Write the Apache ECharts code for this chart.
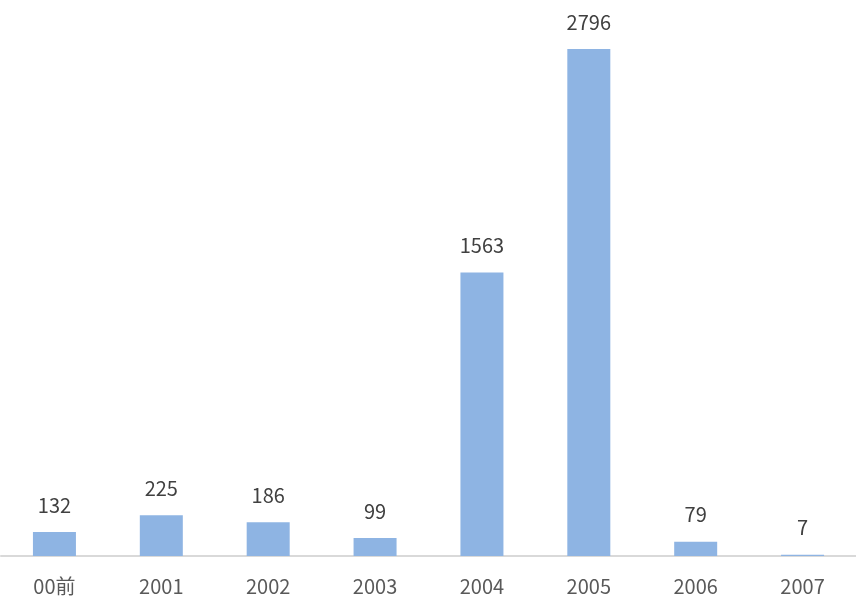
<!DOCTYPE html>
<html><head><meta charset="utf-8">
<script src="https://cdn.jsdelivr.net/npm/echarts@6/dist/echarts.min.js"></script>
<style>html,body{margin:0;padding:0;background:#fff}#c{width:856px;height:614px}</style>
</head><body><div id="c"></div>
<script>
const categories = ['00前','2001','2002','2003','2004','2005','2006','2007'];
const values = [132,225,186,99,1563,2796,79,7];
const chart = echarts.init(document.getElementById('c'));
chart.setOption({
  animation:false,
  grid:{left:1,right:-1,top:12,bottom:58,containLabel:false},
  xAxis:{type:'category',data:categories,
    axisLine:{lineStyle:{color:'#d9d9d9',width:2}},
    axisTick:{show:false},
    axisLabel:{color:'#595959',fontSize:20,margin:20,fontFamily:'"Noto Sans CJK SC", sans-serif'}},
  yAxis:{type:'value',min:0,max:3000,show:false,splitLine:{show:false}},
  series:[{type:'bar',data:values,barWidth:43,itemStyle:{color:'#8EB4E3'},
    label:{show:true,position:'top',distance:17,color:'#404040',fontSize:20,fontFamily:'"Noto Sans CJK SC", sans-serif'}}]
});
</script></body></html>
